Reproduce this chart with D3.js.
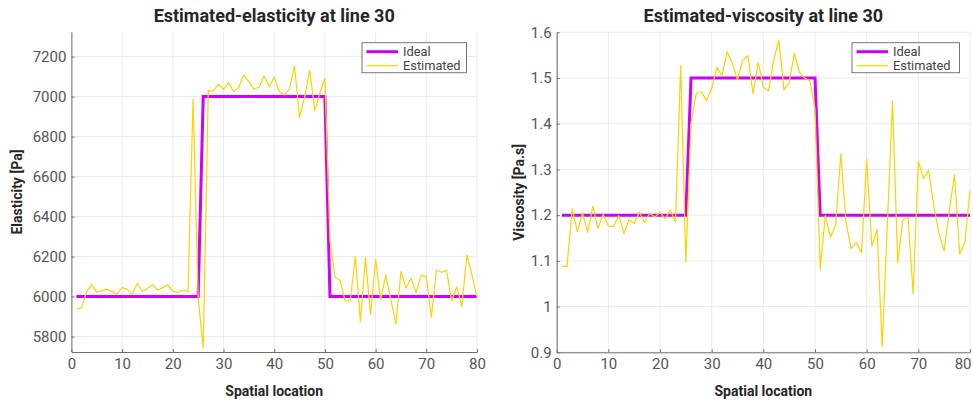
<!DOCTYPE html>
<html lang="en">
<head>
<meta charset="UTF-8">
<title>Estimated elasticity and viscosity at line 30</title>
<style>
    body {
        margin: 0;
        background: #fff;
        font-family: Roboto, "Open Sans", Arial, sans-serif;
    }
    svg text { font-family: Roboto, "Open Sans", Arial, sans-serif; }
</style>
</head>
<body>
<svg id="chart" width="973" height="402"></svg>
<script src="https://d3js.org/d3.v7.min.js"></script>
<script>
// spatial locations (x of every sample)
const locations = [1, 2, 3, 4, 5, 6, 7, 8, 9, 10, 11, 12, 13, 14, 15, 16, 17, 18, 19, 20,
    21, 22, 23, 24, 25, 26, 27, 28, 29, 30, 31, 32, 33, 34, 35, 36, 37, 38, 39, 40,
    41, 42, 43, 44, 45, 46, 47, 48, 49, 50, 51, 52, 53, 54, 55, 56, 57, 58, 59, 60,
    61, 62, 63, 64, 65, 66, 67, 68, 69, 70, 71, 72, 73, 74, 75, 76, 77, 78, 79, 80];

const idealElasticity = [6000, 6000, 6000, 6000, 6000, 6000, 6000, 6000, 6000, 6000,
    6000, 6000, 6000, 6000, 6000, 6000, 6000, 6000, 6000, 6000, 6000, 6000, 6000, 6000, 6000,
    7000, 7000, 7000, 7000, 7000, 7000, 7000, 7000, 7000, 7000, 7000, 7000, 7000, 7000, 7000,
    7000, 7000, 7000, 7000, 7000, 7000, 7000, 7000, 7000, 7000,
    6000, 6000, 6000, 6000, 6000, 6000, 6000, 6000, 6000, 6000, 6000, 6000, 6000, 6000, 6000,
    6000, 6000, 6000, 6000, 6000, 6000, 6000, 6000, 6000, 6000, 6000, 6000, 6000, 6000, 6000];

const estimatedElasticity = [5939, 5945, 6025, 6060, 6022, 6030, 6036, 6025, 6013, 6045,
    6036, 6010, 6066, 6025, 6040, 6060, 6033, 6045, 6058, 6027,
    6020, 6033, 6025, 6987, 5995, 5742, 7030, 7028, 7062, 7037,
    7070, 7025, 7045, 7107, 7075, 7037, 7047, 7103, 7050, 7097,
    7025, 7008, 7037, 7153, 6897, 6995, 7133, 6930, 7017, 7092,
    6280, 6097, 6080, 5978, 5978, 6200, 5875, 6195, 5908, 6187,
    5983, 6107, 5985, 5863, 6125, 6042, 6092, 6020, 6107, 6100,
    5897, 6133, 6122, 6130, 5978, 6050, 5950, 6208, 6108, 5997];

const idealViscosity = [1.2, 1.2, 1.2, 1.2, 1.2, 1.2, 1.2, 1.2, 1.2, 1.2,
    1.2, 1.2, 1.2, 1.2, 1.2, 1.2, 1.2, 1.2, 1.2, 1.2, 1.2, 1.2, 1.2, 1.2, 1.2,
    1.5, 1.5, 1.5, 1.5, 1.5, 1.5, 1.5, 1.5, 1.5, 1.5, 1.5, 1.5, 1.5, 1.5, 1.5,
    1.5, 1.5, 1.5, 1.5, 1.5, 1.5, 1.5, 1.5, 1.5, 1.5,
    1.2, 1.2, 1.2, 1.2, 1.2, 1.2, 1.2, 1.2, 1.2, 1.2, 1.2, 1.2, 1.2, 1.2, 1.2,
    1.2, 1.2, 1.2, 1.2, 1.2, 1.2, 1.2, 1.2, 1.2, 1.2, 1.2, 1.2, 1.2, 1.2, 1.2];

const estimatedViscosity = [1.088, 1.088, 1.214, 1.164, 1.205, 1.162, 1.22, 1.171, 1.202, 1.176,
    1.175, 1.199, 1.16, 1.19, 1.182, 1.207, 1.184, 1.204, 1.196, 1.206,
    1.192, 1.211, 1.185, 1.527, 1.097, 1.40, 1.466, 1.47, 1.45, 1.477,
    1.523, 1.505, 1.557, 1.532, 1.496, 1.538, 1.549, 1.466, 1.534, 1.48,
    1.472, 1.539, 1.583, 1.474, 1.49, 1.554, 1.512, 1.50, 1.494, 1.432,
    1.082, 1.199, 1.151, 1.18, 1.334, 1.185, 1.127, 1.14, 1.118, 1.323,
    1.132, 1.169, 0.913, 1.18, 1.45, 1.096, 1.19, 1.195, 1.028, 1.318,
    1.28, 1.298, 1.22, 1.16, 1.122, 1.21, 1.289, 1.115, 1.14, 1.254];

const xTicks = [0, 10, 20, 30, 40, 50, 60, 70, 80];
const elasticityTicks = [5800, 6000, 6200, 6400, 6600, 6800, 7000, 7200];
const viscosityTicks = [0.9, 1, 1.1, 1.2, 1.3, 1.4, 1.5, 1.6];
const legendLabels = ['Ideal', 'Estimated'];

const idealColor = '#cc00ff';
const estColor = '#ffd200';
const gridColor = '#ebebeb';
const axisColor = '#6e6e6e';
const tickTextColor = '#555';

const svg = d3.select('#chart');

function drawPanel(opt) {
    const x = d3.scaleLinear().domain([0, 80]).range([opt.left, opt.right]);
    const y = d3.scaleLinear().domain(opt.yDomain).range([opt.bottom, opt.top]);
    const g = svg.append('g');

    // grid
    g.append('g').selectAll('line').data(xTicks).enter().append('line')
        .attr('x1', d => x(d)).attr('x2', d => x(d))
        .attr('y1', opt.top).attr('y2', opt.bottom)
        .attr('stroke', gridColor).attr('stroke-width', 1);
    g.append('g').selectAll('line').data(opt.yTicks).enter().append('line')
        .attr('x1', opt.left).attr('x2', opt.right)
        .attr('y1', d => y(d)).attr('y2', d => y(d))
        .attr('stroke', gridColor).attr('stroke-width', 1);

    // axes with inward ticks
    const xAxis = g.append('g')
        .attr('transform', `translate(0,${opt.bottom})`)
        .call(d3.axisBottom(x).tickValues(xTicks).tickSizeInner(-3).tickSizeOuter(0).tickPadding(6.5));
    const yAxis = g.append('g')
        .attr('transform', `translate(${opt.left},0)`)
        .call(d3.axisLeft(y).tickValues(opt.yTicks).tickFormat(d3.format('')).tickSizeInner(-3).tickSizeOuter(0).tickPadding(5));
    [xAxis, yAxis].forEach(a => {
        a.select('.domain').attr('stroke', axisColor);
        a.selectAll('.tick line').attr('stroke', axisColor);
        a.selectAll('.tick text')
            .attr('fill', tickTextColor)
            .style('font-size', '15px');
    });
    xAxis.selectAll('.tick text').attr('dy', '0.71em');
    // last label kept inside the figure, like the original export
    if (opt.clampLastLabel) {
        xAxis.selectAll('.tick text').filter(d => d === 80)
            .attr('text-anchor', 'end').attr('x', 1);
    }

    // lines
    const line = d3.line()
        .x((d, i) => x(locations[i]))
        .y(d => y(d));
    g.append('path')
        .datum(opt.ideal)
        .attr('fill', 'none')
        .attr('stroke', idealColor)
        .attr('stroke-width', 3)
        .attr('d', line);
    g.append('path')
        .datum(opt.est)
        .attr('fill', 'none')
        .attr('stroke', estColor)
        .attr('stroke-width', 1.2)
        .attr('stroke-linejoin', 'round')
        .attr('d', line);

    // title and axis labels
    const mid = (opt.left + opt.right) / 2;
    g.append('text')
        .attr('x', mid).attr('y', 22)
        .attr('text-anchor', 'middle')
        .style('font-size', '18px').style('font-weight', 'bold')
        .attr('fill', '#262626')
        .text(opt.title);
    g.append('text')
        .attr('x', mid).attr('y', 396)
        .attr('text-anchor', 'middle')
        .style('font-size', '14px').style('font-weight', 'bold')
        .attr('fill', '#262626')
        .text('Spatial location');
    g.append('text')
        .attr('transform', `translate(${opt.yLabelX},${(opt.top + opt.bottom) / 2}) rotate(-90)`)
        .attr('text-anchor', 'middle')
        .style('font-size', '14px').style('font-weight', 'bold')
        .attr('fill', '#262626')
        .text(opt.yLabel);

    // legend
    const lw = opt.legendWidth, lh = 30;
    const lx = opt.right - 10.5 - lw, ly = 42.7;
    const leg = g.append('g').attr('transform', `translate(${lx},${ly})`);
    leg.append('rect')
        .attr('width', lw).attr('height', lh)
        .attr('fill', '#fff').attr('stroke', '#777').attr('stroke-width', 1);
    leg.selectAll('line.key').data(legendLabels).enter().append('line')
        .attr('class', 'key')
        .attr('x1', 4.5).attr('x2', 36)
        .attr('y1', (d, i) => 9 + i * 14).attr('y2', (d, i) => 9 + i * 14)
        .attr('stroke', (d, i) => i === 0 ? idealColor : estColor)
        .attr('stroke-width', (d, i) => i === 0 ? 3 : 1.2);
    leg.selectAll('text').data(legendLabels).enter().append('text')
        .attr('x', 41)
        .attr('y', (d, i) => 13.8 + i * 13.2)
        .style('font-size', '12.8px')
        .attr('fill', '#444')
        .text(d => d);
}

drawPanel({
    left: 71.4, right: 477, top: 32, bottom: 352,
    yDomain: [5723, 7323], yTicks: elasticityTicks,
    title: 'Estimated-elasticity at line 30', yLabel: 'Elasticity [Pa]', yLabelX: 22,
    ideal: idealElasticity, est: estimatedElasticity, legendWidth: 104.5
});

drawPanel({
    left: 556.7, right: 970, top: 32.3, bottom: 352.3,
    yDomain: [0.9, 1.6], yTicks: viscosityTicks,
    title: 'Estimated-viscosity at line 30', yLabel: 'Viscosity [Pa.s]', yLabelX: 524,
    ideal: idealViscosity, est: estimatedViscosity, legendWidth: 107.5,
    clampLastLabel: true
});
</script>
</body>
</html>
